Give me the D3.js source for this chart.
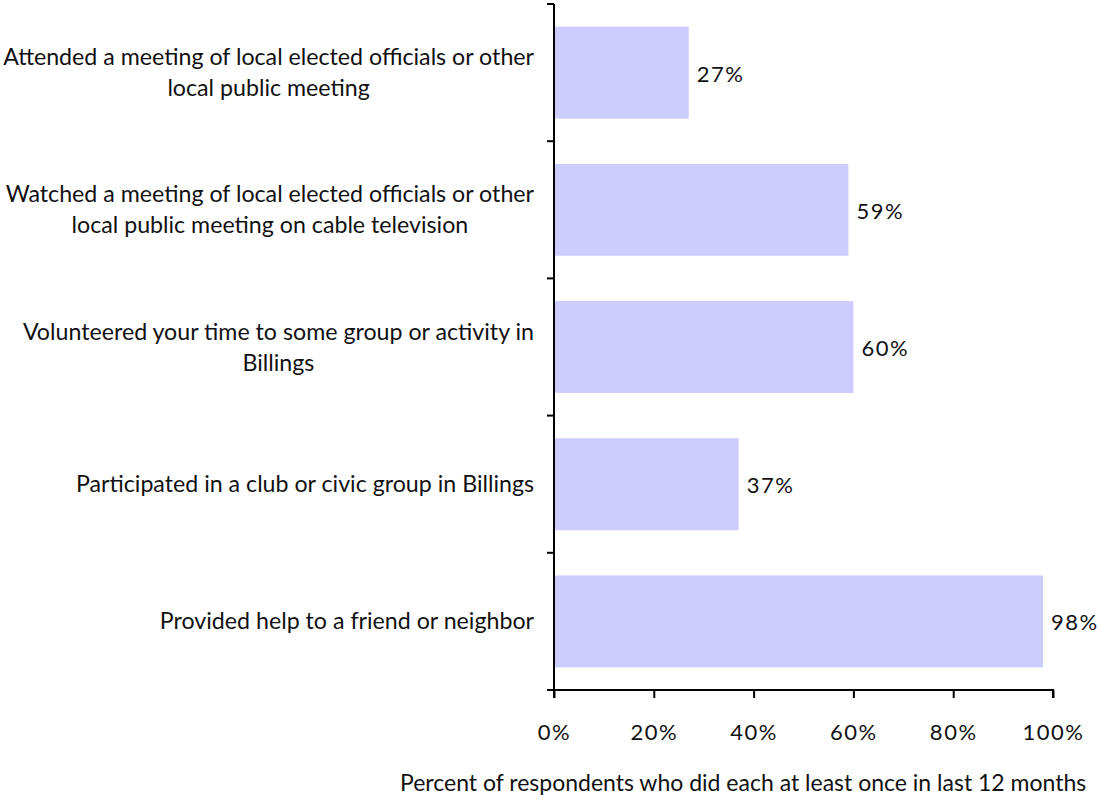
<!DOCTYPE html>
<html>
<head>
<meta charset="utf-8">
<script src="https://cdn.jsdelivr.net/npm/d3@7"></script>
<style>
  html, body { margin: 0; padding: 0; background: #fff; }
  svg text { font-family: Lato, "Open Sans", sans-serif; fill: #111; }
</style>
</head>
<body>
<svg id="chart" width="1099" height="796"></svg>
<script>
// Civic participation items, each label split into display lines
const categories = [
  ["Attended a meeting of local elected officials or other", "local public meeting"],
  ["Watched a meeting of local elected officials or other", "local public meeting on cable television"],
  ["Volunteered your time to some group or activity in", "Billings"],
  ["Participated in a club or civic group in Billings"],
  ["Provided help to a friend or neighbor"]
];
const values = [27, 59, 60, 37, 98];
const xTicks = [0, 20, 40, 60, 80, 100];
const xTitle = "Percent of respondents who did each at least once in last 12 months";

const svg = d3.select("#chart");
const margin = { left: 554, right: 46, top: 4, bottom: 106 };
const W = 1099, H = 796;

const x = d3.scaleLinear().domain([0, 100]).range([margin.left, W - margin.right]);
const y = d3.scaleBand()
  .domain(d3.range(categories.length))
  .range([margin.top, H - margin.bottom])
  .paddingInner(0.33)
  .paddingOuter(0.165);

// Bars
svg.append("g").selectAll("rect")
  .data(values)
  .join("rect")
  .attr("x", x(0))
  .attr("y", (d, i) => y(i))
  .attr("width", d => x(d) - x(0))
  .attr("height", y.bandwidth())
  .attr("fill", "#ccccff");

// Value labels at bar ends
svg.append("g").selectAll("text")
  .data(values)
  .join("text")
  .attr("x", d => x(d) + 8)
  .attr("y", (d, i) => y(i) + y.bandwidth() / 2 + 9)
  .attr("font-size", 22)
  .attr("letter-spacing", 1.5)
  .text(d => d + "%");

// Y axis: line with tick marks at band boundaries
const yAxisG = svg.append("g");
const yTop = margin.top, yBot = H - margin.bottom;
yAxisG.append("line")
  .attr("x1", x(0)).attr("x2", x(0))
  .attr("y1", yTop).attr("y2", yBot)
  .attr("stroke", "#000").attr("stroke-width", 2);
const bounds = d3.range(categories.length + 1).map(i => yTop + i * y.step());
yAxisG.selectAll("line.tick")
  .data(bounds)
  .join("line")
  .attr("class", "tick")
  .attr("x1", x(0) - 7).attr("x2", x(0))
  .attr("y1", d => d).attr("y2", d => d)
  .attr("stroke", "#000").attr("stroke-width", 2);

// Category labels: lines centered within a right-aligned block
const labelRight = 534;
const labelG = svg.append("g");
categories.forEach((lines, i) => {
  const cy = y(i) + y.bandwidth() / 2;
  const g = labelG.append("g");
  const texts = lines.map((ln, j) => g.append("text")
    .attr("font-size", 23.2)
    .attr("y", cy + 8 + (j - (lines.length - 1) / 2) * 31)
    .text(ln));
  const widest = d3.max(texts, t => t.node().getComputedTextLength());
  texts.forEach(t => t.attr("text-anchor", "middle").attr("x", labelRight - widest / 2));
});

// X axis
const xAxis = d3.axisBottom(x)
  .tickValues(xTicks)
  .tickSize(8)
  .tickFormat(d => d + "%");
const xAxisG = svg.append("g")
  .attr("transform", `translate(0,${yBot})`)
  .call(xAxis);
xAxisG.select(".domain").attr("stroke", "#000").attr("stroke-width", 2)
  .attr("d", `M${x(0)},8V0H${x(100)}V8`);
xAxisG.selectAll(".tick line").attr("stroke", "#000").attr("stroke-width", 2);
xAxisG.selectAll(".tick text")
  .attr("font-size", 22)
  .attr("letter-spacing", 1.5)
  .attr("font-family", "Lato, sans-serif")
  .attr("fill", "#111")
  .attr("dy", 0)
  .attr("y", 50);

// Axis title
svg.append("text")
  .attr("x", 400)
  .attr("y", 791)
  .attr("font-size", 23)
  .text(xTitle);
</script>
</body>
</html>
